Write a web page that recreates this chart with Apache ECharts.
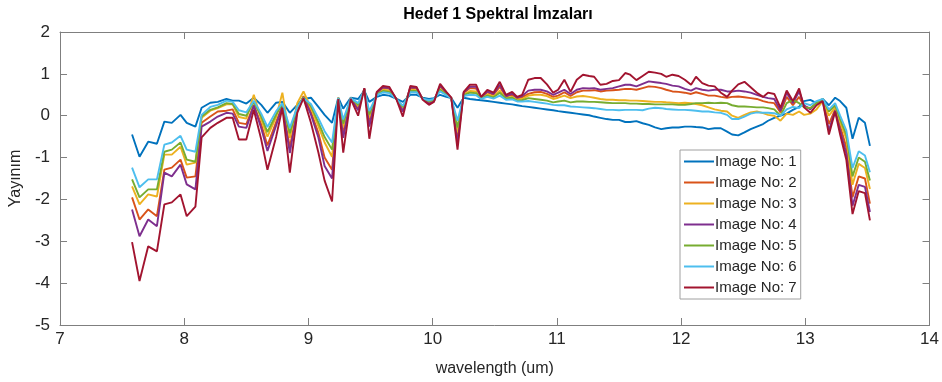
<!DOCTYPE html>
<html>
<head>
<meta charset="utf-8">
<script src="https://cdn.jsdelivr.net/npm/echarts/dist/echarts.min.js"></script>
<style>
  html, body { margin: 0; padding: 0; background: #ffffff; }
  #chart { width: 942px; height: 382px; }
</style>
</head>
<body>
<div id="chart"></div>
<script>
// Wavelength samples (um)
const wavelengths = [
  7.58, 7.64, 7.71, 7.78, 7.84, 7.90, 7.97, 8.02, 8.09, 8.14, 8.21, 8.27, 8.34, 8.39,
  8.44, 8.50, 8.56, 8.62, 8.67, 8.74, 8.79, 8.85, 8.91, 8.96, 9.02, 9.08, 9.13, 9.19,
  9.24, 9.28, 9.34, 9.40, 9.45, 9.49, 9.55, 9.60, 9.65, 9.71, 9.76, 9.82, 9.87, 9.92,
  9.97, 10.01, 10.06, 10.11, 10.15, 10.20, 10.25, 10.30, 10.35, 10.39, 10.44, 10.49,
  10.54, 10.59, 10.64, 10.68, 10.72, 10.77, 10.82,
  10.87, 10.92, 10.97, 11.01, 11.06, 11.11, 11.16, 11.21, 11.26, 11.30, 11.35, 11.40,
  11.45, 11.50, 11.55, 11.59, 11.64, 11.69, 11.74, 11.79, 11.84, 11.88, 11.93, 11.98,
  12.03, 12.08, 12.12, 12.17, 12.22, 12.27, 12.32, 12.37, 12.41, 12.46, 12.51, 12.56,
  12.61, 12.66, 12.70, 12.75, 12.80, 12.85, 12.90, 12.95, 12.99, 13.04, 13.09, 13.14,
  13.19, 13.24, 13.28, 13.33, 13.38, 13.43, 13.48, 13.52
];

// Radiance per image
const image1 = [
  -0.45, -0.98, -0.62, -0.67, -0.14, -0.17, 0.02, -0.17, -0.26, 0.19, 0.31, 0.33, 0.40, 0.36,
  0.36, 0.29, 0.43, 0.26, 0.07, 0.31, 0.33, 0.07, 0.26, 0.40, 0.43, 0.21, 0.02, -0.17,
  0.43, 0.17, 0.43, 0.40, 0.60, 0.33, 0.45, 0.50, 0.48, 0.40, 0.33, 0.50, 0.50, 0.43,
  0.40, 0.42, 0.50, 0.45, 0.42, 0.19, 0.43, 0.40, 0.38, 0.37, 0.35, 0.33,
  0.31, 0.29, 0.27, 0.25, 0.23, 0.21, 0.19,
  0.17, 0.15, 0.13, 0.11, 0.09, 0.07, 0.05, 0.03, 0.01, -0.02, -0.05, -0.08,
  -0.10, -0.10, -0.15, -0.15, -0.13, -0.18, -0.22, -0.28, -0.32, -0.30, -0.28, -0.28,
  -0.26, -0.26, -0.27, -0.28, -0.32, -0.30, -0.30, -0.38, -0.45, -0.47, -0.40, -0.32,
  -0.26, -0.20, -0.12, -0.05, 0.00, 0.05, 0.14, 0.21, 0.35, 0.38, 0.30, 0.40,
  0.25, 0.43, 0.35, 0.19, -0.55, -0.05, -0.17, -0.72
];
const image2 = [
  -1.95, -2.48, -2.24, -2.40, -1.29, -1.24, -1.05, -1.48, -1.45, -0.17, -0.02, 0.10, 0.12, 0.15,
  -0.17, -0.20, 0.26, -0.21, -0.71, -0.15, 0.25, -0.75, 0.16, 0.47, 0.09, -0.41, -1.00, -1.29,
  0.41, -0.43, 0.42, 0.17, 0.64, -0.17, 0.54, 0.66, 0.64, 0.39, 0.13, 0.66, 0.65, 0.40,
  0.31, 0.35, 0.70, 0.54, 0.42, -0.52, 0.54, 0.66, 0.65, 0.44, 0.56, 0.50,
  0.69, 0.46, 0.50, 0.41, 0.44, 0.52, 0.56,
  0.57, 0.52, 0.45, 0.48, 0.56, 0.47, 0.56, 0.60, 0.60, 0.61, 0.58, 0.60,
  0.61, 0.62, 0.64, 0.64, 0.62, 0.66, 0.70, 0.69, 0.66, 0.62, 0.58, 0.57,
  0.55, 0.52, 0.56, 0.52, 0.48, 0.48, 0.45, 0.43, 0.45, 0.46, 0.44, 0.42,
  0.40, 0.35, 0.32, 0.30, 0.08, 0.45, 0.25, 0.45, 0.22, 0.18, 0.30, 0.38,
  -0.20, 0.15, -0.25, -0.75, -1.95, -1.45, -1.50, -2.10
];
const image3 = [
  -1.69, -2.12, -1.88, -1.93, -0.93, -0.93, -0.74, -1.17, -1.12, -0.05, 0.12, 0.18, 0.27, 0.27,
  -0.03, -0.07, 0.50, -0.09, -0.50, -0.03, 0.55, -0.53, 0.30, 0.58, 0.18, -0.25, -0.64, -0.98,
  0.43, -0.27, 0.42, 0.23, 0.63, -0.04, 0.52, 0.62, 0.60, 0.39, 0.18, 0.62, 0.61, 0.41,
  0.33, 0.37, 0.64, 0.52, 0.42, -0.40, 0.51, 0.59, 0.58, 0.42, 0.51, 0.46,
  0.60, 0.42, 0.45, 0.38, 0.40, 0.48, 0.50,
  0.50, 0.47, 0.40, 0.43, 0.48, 0.42, 0.46, 0.47, 0.45, 0.43, 0.40, 0.38,
  0.38, 0.37, 0.37, 0.36, 0.36, 0.35, 0.34, 0.33, 0.33, 0.32, 0.31, 0.30,
  0.31, 0.30, 0.28, 0.25, 0.20, 0.15, 0.12, 0.10, 0.00, -0.05, 0.02, 0.08,
  0.10, 0.06, 0.02, 0.00, -0.12, 0.05, 0.02, 0.10, 0.02, 0.05, 0.15, 0.35,
  0.00, 0.20, -0.15, -0.55, -1.65, -1.15, -1.25, -1.75
];
const image4 = [
  -2.24, -2.88, -2.48, -2.64, -1.36, -1.45, -1.17, -1.64, -1.76, -0.26, -0.14, -0.02, 0.07, 0.05,
  -0.26, -0.29, 0.24, -0.30, -0.84, -0.23, 0.23, -0.89, 0.13, 0.43, 0.03, -0.52, -1.20, -1.50,
  0.41, -0.53, 0.42, 0.13, 0.65, -0.26, 0.55, 0.68, 0.66, 0.39, 0.10, 0.68, 0.67, 0.40,
  0.29, 0.34, 0.72, 0.56, 0.42, -0.65, 0.56, 0.69, 0.69, 0.44, 0.58, 0.52,
  0.74, 0.47, 0.53, 0.43, 0.47, 0.60, 0.62,
  0.62, 0.58, 0.50, 0.55, 0.62, 0.52, 0.62, 0.66, 0.65, 0.66, 0.62, 0.64,
  0.66, 0.70, 0.74, 0.74, 0.70, 0.76, 0.82, 0.80, 0.78, 0.76, 0.72, 0.70,
  0.64, 0.60, 0.66, 0.62, 0.60, 0.62, 0.62, 0.58, 0.58, 0.60, 0.58, 0.55,
  0.50, 0.45, 0.42, 0.40, 0.12, 0.55, 0.30, 0.58, 0.25, 0.15, 0.30, 0.35,
  -0.35, 0.12, -0.35, -0.90, -2.15, -1.65, -1.70, -2.30
];
const image5 = [
  -1.52, -1.95, -1.76, -1.76, -0.86, -0.81, -0.64, -1.05, -1.10, -0.02, 0.14, 0.20, 0.30, 0.28,
  0.04, 0.00, 0.33, -0.02, -0.39, 0.03, 0.28, -0.42, 0.20, 0.44, 0.23, -0.16, -0.51, -0.81,
  0.42, -0.19, 0.42, 0.26, 0.62, 0.03, 0.51, 0.59, 0.57, 0.39, 0.21, 0.59, 0.59, 0.41,
  0.35, 0.38, 0.62, 0.50, 0.42, -0.28, 0.49, 0.55, 0.54, 0.41, 0.48, 0.44,
  0.55, 0.41, 0.43, 0.36, 0.37, 0.42, 0.40,
  0.38, 0.36, 0.32, 0.34, 0.36, 0.32, 0.34, 0.34, 0.33, 0.33, 0.32, 0.31,
  0.30, 0.30, 0.30, 0.29, 0.29, 0.28, 0.28, 0.27, 0.27, 0.27, 0.27, 0.26,
  0.26, 0.28, 0.30, 0.30, 0.31, 0.30, 0.31, 0.30, 0.25, 0.22, 0.22, 0.21,
  0.20, 0.20, 0.18, 0.15, 0.00, 0.30, 0.38, 0.30, 0.20, 0.18, 0.30, 0.40,
  0.10, 0.25, -0.08, -0.45, -1.45, -1.00, -1.10, -1.55
];
const image6 = [
  -1.24, -1.71, -1.52, -1.52, -0.69, -0.64, -0.48, -0.81, -0.86, 0.02, 0.21, 0.26, 0.36, 0.33,
  0.13, 0.08, 0.36, 0.05, -0.27, 0.11, 0.30, -0.29, 0.21, 0.42, 0.28, -0.06, -0.37, -0.64,
  0.42, -0.09, 0.42, 0.30, 0.61, 0.11, 0.49, 0.56, 0.54, 0.39, 0.24, 0.56, 0.56, 0.41,
  0.37, 0.40, 0.58, 0.49, 0.42, -0.12, 0.47, 0.50, 0.49, 0.40, 0.45, 0.41,
  0.48, 0.38, 0.39, 0.34, 0.34, 0.35, 0.33,
  0.31, 0.29, 0.26, 0.25, 0.25, 0.22, 0.21, 0.20, 0.19, 0.18, 0.16, 0.14,
  0.14, 0.13, 0.14, 0.14, 0.14, 0.13, 0.17, 0.19, 0.18, 0.16, 0.15, 0.14,
  0.14, 0.13, 0.12, 0.10, 0.10, 0.08, 0.07, 0.02, -0.08, -0.08, -0.02, 0.05,
  0.08, 0.07, 0.07, 0.06, 0.00, 0.15, 0.21, 0.18, 0.30, 0.25, 0.35, 0.40,
  0.15, 0.30, 0.00, -0.35, -1.25, -0.85, -0.95, -1.35
];
const image7 = [
  -3.02, -3.95, -3.12, -3.24, -2.12, -2.07, -1.88, -2.40, -2.17, -0.52, -0.29, -0.17, -0.05, -0.05,
  -0.57, -0.57, 0.14, -0.57, -1.29, -0.50, 0.19, -1.36, 0.07, 0.42, -0.17, -0.88, -1.55, -2.05,
  0.40, -0.88, 0.40, 0.00, 0.66, -0.55, 0.57, 0.71, 0.69, 0.38, -0.02, 0.71, 0.69, 0.38,
  0.26, 0.33, 0.76, 0.57, 0.43, -0.81, 0.57, 0.74, 0.74, 0.45, 0.62, 0.55,
  0.81, 0.50, 0.57, 0.45, 0.50, 0.86, 0.90,
  0.90, 0.75, 0.55, 0.62, 0.86, 0.57, 0.86, 0.98, 0.95, 0.93, 0.74, 0.76,
  0.83, 0.85, 1.02, 0.98, 0.85, 0.95, 1.05, 1.03, 1.00, 0.93, 0.98, 0.95,
  0.86, 0.74, 0.93, 0.78, 0.72, 0.70, 0.55, 0.45, 0.60, 0.75, 0.81, 0.68,
  0.55, 0.45, 0.55, 0.52, 0.19, 0.60, 0.35, 0.65, 0.20, 0.07, 0.25, 0.35,
  -0.45, 0.10, -0.45, -1.05, -2.35, -1.80, -1.85, -2.50
];

const seriesNames = ['Image No: 1', 'Image No: 2', 'Image No: 3', 'Image No: 4',
                     'Image No: 5', 'Image No: 6', 'Image No: 7'];
const seriesValues = [image1, image2, image3, image4, image5, image6, image7];
const seriesColors = ['#0072BD', '#D95319', '#EDB120', '#7E2F8E', '#77AC30', '#4DBEEE', '#A2142F'];

const xTicks = [7, 8, 9, 10, 11, 12, 13, 14];
const yTicks = [-5, -4, -3, -2, -1, 0, 1, 2];

const FONT = '"Liberation Sans", Arial, Helvetica, sans-serif';
const frameColor = '#7f7f7f';
const textColor = '#262626';

const chart = echarts.init(document.getElementById('chart'), null, { renderer: 'canvas' });

const frameAxis = (extra) => Object.assign({
  axisLine: { show: true, onZero: false, lineStyle: { color: frameColor, width: 1 } },
  axisTick: { show: true, inside: true, length: 7, lineStyle: { color: frameColor } },
  splitLine: { show: false },
  axisLabel: { show: false }
}, extra);

chart.setOption({
  animation: false,
  backgroundColor: '#ffffff',
  title: {
    text: 'Hedef 1 Spektral İmzaları',
    left: 493, top: 2, textAlign: 'center',
    textStyle: { fontFamily: FONT, fontSize: 16, fontWeight: 'bold', color: '#000000' }
  },
  grid: { left: 60, right: 12, top: 32, bottom: 56, containLabel: false },
  legend: {
    orient: 'vertical',
    left: 680, top: 150,
    data: seriesNames,
    icon: 'rect',
    itemWidth: 30, itemHeight: 2,
    itemGap: 6,
    padding: [4, 4, 4, 4],
    backgroundColor: '#ffffff',
    borderColor: '#a0a0a0', borderWidth: 1,
    textStyle: { fontFamily: FONT, fontSize: 15, color: textColor, padding: [0, 0, 0, -4] }
  },
  xAxis: [
    frameAxis({
      type: 'value', position: 'bottom', min: xTicks[0], max: xTicks[xTicks.length - 1], interval: 1,
      name: 'wavelength (um)', nameLocation: 'middle', nameGap: 36,
      nameTextStyle: { fontFamily: FONT, fontSize: 16, color: textColor },
      axisLabel: { show: true, margin: 6, fontFamily: FONT, fontSize: 17, color: textColor }
    }),
    frameAxis({
      type: 'value', position: 'top', min: xTicks[0], max: xTicks[xTicks.length - 1], interval: 1
    })
  ],
  yAxis: [
    frameAxis({
      type: 'value', position: 'left', min: yTicks[0], max: yTicks[yTicks.length - 1], interval: 1,
      name: 'Yayınım', nameLocation: 'middle', nameGap: 36,
      nameTextStyle: { fontFamily: FONT, fontSize: 16, color: textColor },
      axisLabel: { show: true, margin: 10, fontFamily: FONT, fontSize: 17, color: textColor }
    }),
    frameAxis({
      type: 'value', position: 'right', min: yTicks[0], max: yTicks[yTicks.length - 1], interval: 1
    })
  ],
  series: seriesNames.map((name, i) => ({
    name: name,
    type: 'line',
    xAxisIndex: 0, yAxisIndex: 0,
    data: wavelengths.map((w, k) => [w, seriesValues[i][k]]),
    showSymbol: false,
    symbol: 'none',
    lineStyle: { color: seriesColors[i], width: 1.9 },
    itemStyle: { color: seriesColors[i] },
    emphasis: { disabled: true }
  }))
});
</script>
</body>
</html>
